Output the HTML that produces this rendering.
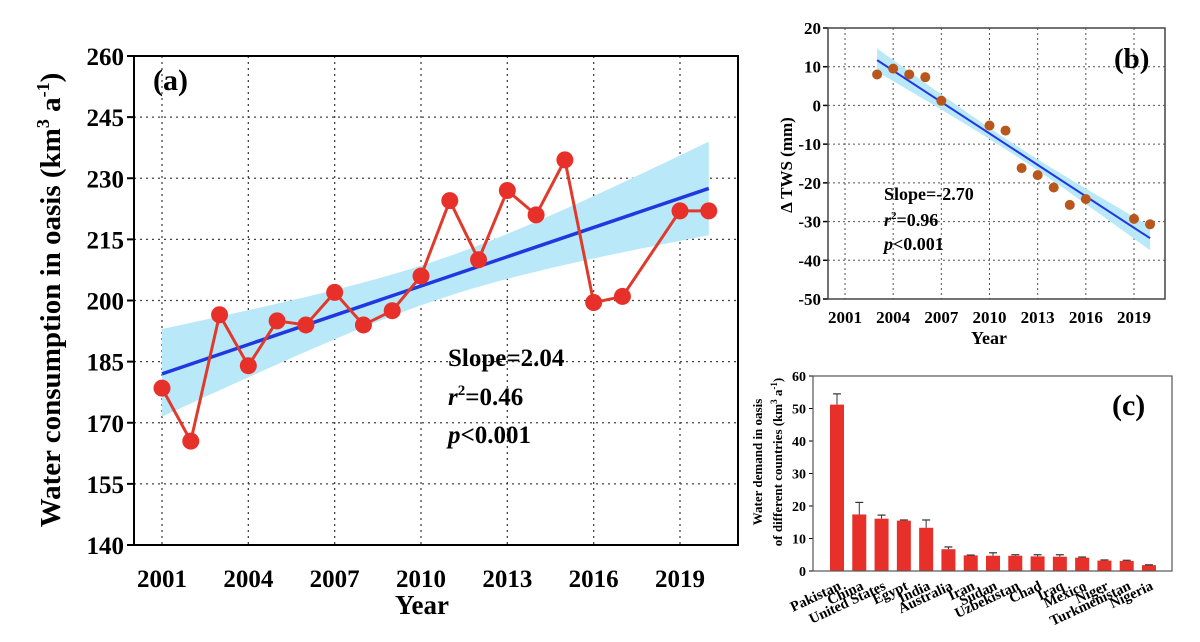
<!DOCTYPE html>
<html><head><meta charset="utf-8"><style>
body{margin:0;background:#fff;width:1200px;height:642px;overflow:hidden}
svg{display:block;font-family:"Liberation Serif",serif;font-weight:bold}
</style></head><body>
<svg id="fig" width="1200" height="642" viewBox="0 0 1200 642" xmlns="http://www.w3.org/2000/svg"></svg>
<script>
// Panel (a) data
const yearsA = [2001,2002,2003,2004,2005,2006,2007,2008,2009,2010,2011,2012,2013,2014,2015,2016,2017,2019,2020];
const valuesA = [178.5,165.5,196.5,184,195,194,202,194,197.5,206,224.5,210,227,221,234.5,199.5,201,222,222];
const trendA = [182,227.5];
const bandA = [171.5,193,216,239];
const yTicksA = [140,155,170,185,200,215,230,245,260];
const xTicksA = [2001,2004,2007,2010,2013,2016,2019];
// Panel (b) data
const yearsB = [2003,2004,2005,2006,2007,2010,2011,2012,2013,2014,2015,2016,2019,2020];
const valuesB = [8,9.5,8,7.3,1.2,-5.2,-6.5,-16.2,-18,-21.2,-25.7,-24.2,-29.3,-30.7];
const trendB = [11.7,-34.3];
const bandB = [8.7,14.7,-37.4,-31.2];
const yTicksB = [-50,-40,-30,-20,-10,0,10,20];
const xTicksB = [2001,2004,2007,2010,2013,2016,2019];
// Panel (c) data
const countries = ["Pakistan","China","United States","Egypt","India","Australia","Iran","Sudan","Uzbekistan","Chad","Iraq","Mexico","Niger","Turkmenistan","Nigeria"];
const demand = [51.2,17.4,16.1,15.5,13.3,6.7,4.8,4.7,4.7,4.5,4.4,4.1,3.2,3.1,1.8];
const demandErr = [3.3,3.7,1.1,0.2,2.4,0.7,0.1,0.9,0.3,0.5,0.6,0.2,0.2,0.2,0.1];
const yTicksC = [0,10,20,30,40,50,60];

const NS="http://www.w3.org/2000/svg";
const svg=document.getElementById('fig');
function el(tag,attrs,parent,text){const e=document.createElementNS(NS,tag);for(const k in attrs)e.setAttribute(k,attrs[k]);if(text!==undefined)e.textContent=text;(parent||svg).appendChild(e);return e;}

function band(g,x,y,x0,x1,b,n,xm,color){
  const hw0=(b[1]-b[0])/2,hw1=(b[3]-b[2])/2,m0=(b[0]+b[1])/2,m1=(b[2]+b[3])/2;
  const half=(x1-x0)/2;const hwMin=Math.min(hw0,hw1)*0.45;
  const up=[],lo=[];
  for(let i=0;i<=n;i++){const t=x0+(x1-x0)*i/n;const f=(t-x0)/(x1-x0);const m=m0+(m1-m0)*f;
    const hwE=hw0+(hw1-hw0)*f;const d=(t-xm)/half;const hw=Math.sqrt(hwMin*hwMin+(hwE*hwE-hwMin*hwMin)*d*d);
    up.push(x(t)+','+y(m+hw));lo.unshift(x(t)+','+y(m-hw));}
  return el('polygon',{points:up.concat(lo).join(' '),fill:color},g);
}

// ===== Panel A =====
(function(){
  const L=134,R=738,T=56,B=545;
  const x=v=>162+(v-2001)*(680-162)/18;
  const y=v=>B-(v-140)/(120)*(B-T);
  const g=el('g',{});
  
  
  yTicksA.forEach(t=>{ if(t>140&&t<260) el('line',{x1:L,x2:R,y1:y(t),y2:y(t),stroke:'#444','stroke-width':1.3,'stroke-dasharray':'2,4'},g);
    el('line',{x1:L-7,x2:L,y1:y(t),y2:y(t),stroke:'#000','stroke-width':2},g);
    const tx=el('text',{x:L-10,y:y(t)+9,'text-anchor':'end','font-size':25},g,t);
    
    });
  xTicksA.forEach(t=>{el('line',{x1:x(t),x2:x(t),y1:T,y2:B,stroke:'#444','stroke-width':1.3,'stroke-dasharray':'2,4'},g);
    const tx=el('text',{x:x(t),y:587,'text-anchor':'middle','font-size':25},g,t);
    
    });
  const bd=band(g,x,y,2001,2020,bandA,60,2010.5,'#b9e8f8');
  
  
  const tl=el('line',{x1:x(2001),y1:y(trendA[0]),x2:x(2020),y2:y(trendA[1]),stroke:'#2038e0','stroke-width':3.5},g);
  
  
  el('polyline',{points:yearsA.map((v,i)=>x(v)+','+y(valuesA[i])).join(' '),fill:'none',stroke:'#e03a2c','stroke-width':3},g);
  yearsA.forEach((v,i)=>{const c=el('circle',{cx:x(v),cy:y(valuesA[i]),r:8.5,fill:'#e8302a'},g);
    
    });
  el('rect',{x:L,y:T,width:R-L,height:B-T,fill:'none',stroke:'#000','stroke-width':2},g);
  el('text',{x:153,y:90,'font-size':30},g,'(a)');
  el('text',{x:448,y:366,'font-size':25},g,'Slope=2.04');
  const r=el('text',{x:448,y:405,'font-size':25},g);
  el('tspan',{'font-style':'italic'},r,'r');el('tspan',{'font-size':15,dy:-10},r,'2');el('tspan',{dy:10},r,'=0.46');
  const p=el('text',{x:448,y:443,'font-size':25},g);
  el('tspan',{'font-style':'italic'},p,'p');el('tspan',{},p,'<0.001');
  el('text',{x:422,y:614,'text-anchor':'middle','font-size':27},g,'Year');
  const yt=el('text',{transform:'translate(60,300) rotate(-90)','text-anchor':'middle','font-size':29},g);
  el('tspan',{},yt,'Water consumption in oasis (km');el('tspan',{'font-size':18,dy:-11},yt,'3');
  el('tspan',{dy:11},yt,' a');el('tspan',{'font-size':18,dy:-11},yt,'-1');el('tspan',{dy:11},yt,')');
  
  
})();

// ===== Panel B =====
(function(){
  const L=828,R=1165,T=28,B=299;
  const x=v=>845+(v-2001)*(1134-845)/18;
  const y=v=>B-(v+50)/70*(B-T);
  const g=el('g',{});
  
  
  yTicksB.forEach(t=>{ if(t>-50&&t<20) el('line',{x1:L,x2:R,y1:y(t),y2:y(t),stroke:'#555','stroke-width':1,'stroke-dasharray':'2,3'},g);
    el('line',{x1:L-5,x2:L,y1:y(t),y2:y(t),stroke:'#000','stroke-width':1.5},g);
    el('text',{x:L-7,y:y(t)+6,'text-anchor':'end','font-size':17},g,t);});
  xTicksB.forEach(t=>{el('line',{x1:x(t),x2:x(t),y1:T,y2:B,stroke:'#555','stroke-width':1,'stroke-dasharray':'2,3'},g);
    el('text',{x:x(t),y:323,'text-anchor':'middle','font-size':17},g,t);});
  const bd=band(g,x,y,2003,2020,bandB,60,2011.5,'#b9e8f8');
  
  
  el('line',{x1:x(2003),y1:y(trendB[0]),x2:x(2020),y2:y(trendB[1]),stroke:'#2038e0','stroke-width':2},g);
  yearsB.forEach((v,i)=>{const c=el('circle',{cx:x(v),cy:y(valuesB[i]),r:5,fill:'#b8561c'},g);
    
    });
  el('rect',{x:L,y:T,width:R-L,height:B-T,fill:'none',stroke:'#444','stroke-width':1.5},g);
  el('text',{x:1114,y:68,'font-size':29},g,'(b)');
  el('text',{x:884,y:200,'font-size':18},g,'Slope=-2.70');
  const r=el('text',{x:884,y:226,'font-size':18},g);
  el('tspan',{'font-style':'italic'},r,'r');el('tspan',{'font-size':11,dy:-7},r,'2');el('tspan',{dy:7},r,'=0.96');
  const p=el('text',{x:884,y:250,'font-size':18},g);
  el('tspan',{'font-style':'italic'},p,'p');el('tspan',{},p,'<0.001');
  el('text',{x:989,y:344,'text-anchor':'middle','font-size':18},g,'Year');
  el('text',{transform:'translate(792,165) rotate(-90)','text-anchor':'middle','font-size':17},g,'Δ TWS (mm)');
})();

// ===== Panel C =====
(function(){
  const L=813,R=1172,T=376,B=571;
  const x=i=>837+i*(1149-837)/14;
  const y=v=>B-v/60*(B-T);
  const g=el('g',{});
  
  
  yTicksC.forEach(t=>{el('line',{x1:L-4,x2:L,y1:y(t),y2:y(t),stroke:'#000','stroke-width':1},g);
    el('text',{x:L-7,y:y(t)+5,'text-anchor':'end','font-size':14},g,t);});
  countries.forEach((c,i)=>{
    const b=el('rect',{x:x(i)-7,y:y(demand[i]),width:14,height:B-y(demand[i]),fill:'#e8302a'},g);
    
    
    const top=y(demand[i]+demandErr[i]);
    el('line',{x1:x(i),x2:x(i),y1:y(demand[i]),y2:top,stroke:'#333','stroke-width':1},g);
    el('line',{x1:x(i)-4,x2:x(i)+4,y1:top,y2:top,stroke:'#333','stroke-width':1.2},g);
    el('text',{transform:'translate('+(x(i)+5)+','+(589)+') rotate(-25)','text-anchor':'end','font-size':14.5},g,c);
  });
  el('rect',{x:L,y:T,width:R-L,height:B-T,fill:'none',stroke:'#555','stroke-width':1.2},g);
  el('text',{x:1112,y:415,'font-size':30},g,'(c)');
  el('text',{transform:'translate(762,462) rotate(-90)','text-anchor':'middle','font-size':13},g,'Water demand in oasis');
  const t2=el('text',{transform:'translate(782,462) rotate(-90)','text-anchor':'middle','font-size':13},g);
  el('tspan',{},t2,'of different countries (km');el('tspan',{'font-size':9,dy:-5},t2,'3');
  el('tspan',{dy:5},t2,' a');el('tspan',{'font-size':9,dy:-5},t2,'-1');el('tspan',{dy:5},t2,')');
})();
</script>
</body></html>
